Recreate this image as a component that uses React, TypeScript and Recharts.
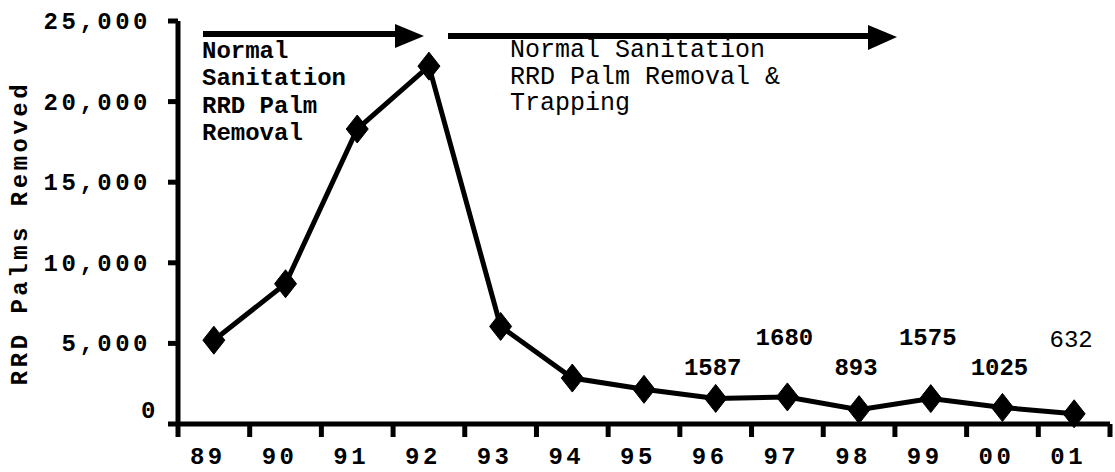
import React from 'react';
import { LineChart, Line, XAxis, YAxis, LabelList } from 'recharts';

const years = ['89', '90', '91', '92', '93', '94', '95', '96', '97', '98', '99', '00', '01'];
const palmsRemoved = [5200, 8700, 18300, 22200, 6050, 2850, 2150, 1587, 1680, 893, 1575, 1025, 632];
const pointLabels = ['', '', '', '', '', '', '', '1587', '1680', '893', '1575', '1025', '632'];
const regularWeightLabels = ['632'];
const yTicks = [0, 5000, 10000, 15000, 20000, 25000];
const phase1Lines = ['Normal', 'Sanitation', 'RRD Palm', 'Removal'];
const phase2Lines = ['Normal Sanitation', 'RRD Palm Removal &', 'Trapping'];
const yAxisTitle = 'RRD Palms Removed';

const data = years.map((year, i) => ({ year, v: palmsRemoved[i], label: pointLabels[i] }));

const W = 1115;
const H = 472;
const PLOT_LEFT = 178;
const PLOT_RIGHT = 1110;
const PLOT_TOP = 21;
const AXIS_Y = 424;
const HALF = (PLOT_RIGHT - PLOT_LEFT) / years.length / 2;
const FONT = '"Liberation Mono", "Courier New", monospace';

const XTick = (props: any) => {
  const { payload, index } = props;
  const cx = payload.coordinate ?? props.x;
  return (
    <g>
      <line x1={cx - HALF} x2={cx - HALF} y1={AXIS_Y} y2={AXIS_Y + 13} stroke="#000" strokeWidth={5} />
      {index === years.length - 1 && (
        <line x1={cx + HALF} x2={cx + HALF} y1={AXIS_Y} y2={AXIS_Y + 13} stroke="#000" strokeWidth={5} />
      )}
      <text x={cx - 6} y={464} textAnchor="middle" fontFamily={FONT} fontWeight="bold" fontSize={24} letterSpacing={3.5} fill="#000">
        {payload.value}
      </text>
    </g>
  );
};

const YTick = (props: any) => {
  const { payload } = props;
  const y = payload.coordinate ?? props.y;
  const v = payload.value as number;
  const isZero = v === 0;
  return (
    <g>
      <line x1={PLOT_LEFT - 10} x2={PLOT_LEFT} y1={y} y2={y} stroke="#000" strokeWidth={5} />
      <text
        x={151 + (isZero ? 8 : 0)}
        y={y + 8 - (isZero ? 14 : 0)}
        textAnchor="end"
        fontFamily={FONT}
        fontWeight="bold"
        fontSize={24}
        letterSpacing={3.5}
        fill="#000"
      >
        {v.toLocaleString('en-US')}
      </text>
    </g>
  );
};

const Diamond = (props: any) => {
  const { cx, cy } = props;
  if (cx == null || cy == null) return null;
  return (
    <polygon
      points={`${cx},${cy - 14} ${cx + 11},${cy} ${cx},${cy + 14} ${cx - 11},${cy}`}
      fill="#000"
      stroke="#000"
      strokeWidth={1}
    />
  );
};

const renderPointLabel = (props: any) => {
  const { x, value, index } = props;
  if (!value) return null;
  const high = index % 2 === 0;
  const regular = regularWeightLabels.includes(String(value));
  return (
    <text
      x={x - 3}
      y={high ? (regular ? 347 : 345) : 375}
      textAnchor="middle"
      fontFamily={FONT}
      fontWeight={regular ? 'normal' : 'bold'}
      fontSize={24}
      fill="#000"
    >
      {value}
    </text>
  );
};

export default function App() {
  return (
    <div style={{ position: 'absolute', left: 0, top: 0, width: W, height: H, background: '#fff' }}>
      <LineChart width={W} height={H} data={data} margin={{ top: PLOT_TOP, right: W - PLOT_RIGHT, bottom: 0, left: 0 }}>
        <XAxis
          dataKey="year"
          type="category"
          padding={{ left: HALF, right: HALF }}
          height={H - AXIS_Y}
          axisLine={{ stroke: '#000', strokeWidth: 5 }}
          tickLine={false}
          tick={<XTick />}
          interval={0}
        />
        <XAxis
          xAxisId="top"
          dataKey="year"
          orientation="top"
          height={0}
          tick={false}
          tickLine={false}
          axisLine={{ stroke: '#000', strokeWidth: 6 }}
        />
        <YAxis
          domain={[0, 25000]}
          ticks={yTicks}
          width={PLOT_LEFT}
          axisLine={{ stroke: '#000', strokeWidth: 5 }}
          tickLine={false}
          tick={<YTick />}
          interval={0}
        />
        <YAxis
          yAxisId="right"
          orientation="right"
          width={0}
          domain={[0, 25000]}
          tick={false}
          tickLine={false}
          axisLine={{ stroke: '#000', strokeWidth: 5 }}
        />
        <Line
          type="linear"
          dataKey="v"
          stroke="#000"
          strokeWidth={5}
          dot={<Diamond />}
          activeDot={false}
          isAnimationActive={false}
        >
          <LabelList dataKey="label" content={renderPointLabel} />
        </Line>
      </LineChart>
      <svg width={W} height={H} style={{ position: 'absolute', left: 0, top: 0, pointerEvents: 'none' }}>
        <text
          transform="translate(27, 233) rotate(-90)"
          textAnchor="middle"
          fontFamily={FONT}
          fontWeight="bold"
          fontSize={24}
          letterSpacing={3.5}
          fill="#000"
        >
          {yAxisTitle}
        </text>
        <line x1={203} x2={398} y1={34} y2={34} stroke="#000" strokeWidth={6} />
        <polygon points="395,24 424,36 395,48" fill="#000" />
        <line x1={448} x2={870} y1={36} y2={36} stroke="#000" strokeWidth={6} />
        <polygon points="868,25 897,37 868,50" fill="#000" />
        {phase1Lines.map((t, i) => (
          <text key={t} x={202} y={58 + i * 27.3} fontFamily={FONT} fontWeight="bold" fontSize={24} fill="#000">
            {t}
          </text>
        ))}
        {phase2Lines.map((t, i) => (
          <text key={t} x={510} y={57 + i * 26.5} fontFamily={FONT} fontSize={25} fill="#000">
            {t}
          </text>
        ))}
      </svg>
    </div>
  );
}
